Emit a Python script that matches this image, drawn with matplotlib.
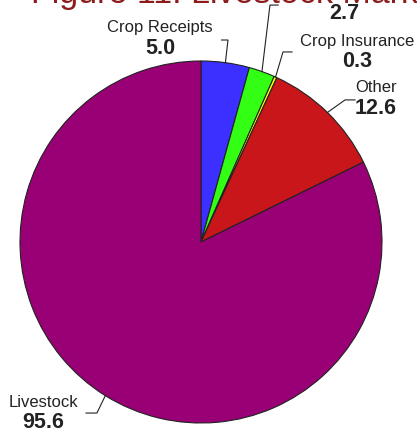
import numpy as np
import matplotlib.pyplot as plt

plt.rcParams['font.family'] = ['Liberation Sans', 'DejaVu Sans']

# farm income components, billion dollars
labels = ['Crop Receipts', 'Government Payments', 'Crop Insurance', 'Other', 'Livestock']
values = [5.0, 2.7, 0.3, 12.6, 95.6]
colors = ['#3b30ff', '#33ff14', '#ffff00', '#c8161a', '#990075']

# label placement (data units, radius = 1): elbow of leader, value centre
elbows = [(0.149, 1.116), (0.381, 1.309), (0.453, 1.050), (0.796, 0.785), (-0.575, -0.945)]
hook = [-0.035, 0.045, 0.05, 0.055, -0.06]
value_pos = [(-0.226, 1.07), (0.79, 1.265), (0.862, 0.995), (0.967, 0.74), (-0.87, -1.0)]
show_name = [True, False, True, True, True]   # the top label's name sits under the title
name_gap = 0.115

W, H = 417, 434
fig = plt.figure(figsize=(W / 100, H / 100), dpi=100)
fig.patch.set_facecolor('white')

cx, cy, r = 201, 242, 181
ax = fig.add_axes([(cx - r) / W, (H - cy - r) / H, 2 * r / W, 2 * r / H])
wedges, _ = ax.pie(values, colors=colors, startangle=90, counterclock=False,
                   radius=1.0, wedgeprops=dict(edgecolor='#222222', linewidth=0.8))
ax.set_xlim(-1, 1)
ax.set_ylim(-1, 1)
ax.set_aspect('equal')
ax.axis('off')

for w, lab, val, (ex, ey), hk, (tx, ty), show in zip(wedges, labels, values, elbows,
                                                     hook, value_pos, show_name):
    mid = np.deg2rad((w.theta1 + w.theta2) / 2)
    px, py = np.cos(mid), np.sin(mid)
    ax.plot([px, ex, ex + hk], [py, ey, ey], color='#222222', lw=0.8, clip_on=False)
    if show:
        ax.text(tx, ty + name_gap, lab, ha='center', va='center', fontsize=12,
                color='#222222', clip_on=False)
    ax.text(tx, ty, f'{val:.1f}', ha='center', va='center', fontsize=15.5,
            fontweight='bold', color='#222222', clip_on=False)

fig.text(31 / W, 1 - 3 / H, 'Figure 11: Livestock Marketings', ha='left', va='baseline',
         fontsize=24.5, color='#8c1c1c', zorder=0)

fig.savefig('out.png', dpi=100)
